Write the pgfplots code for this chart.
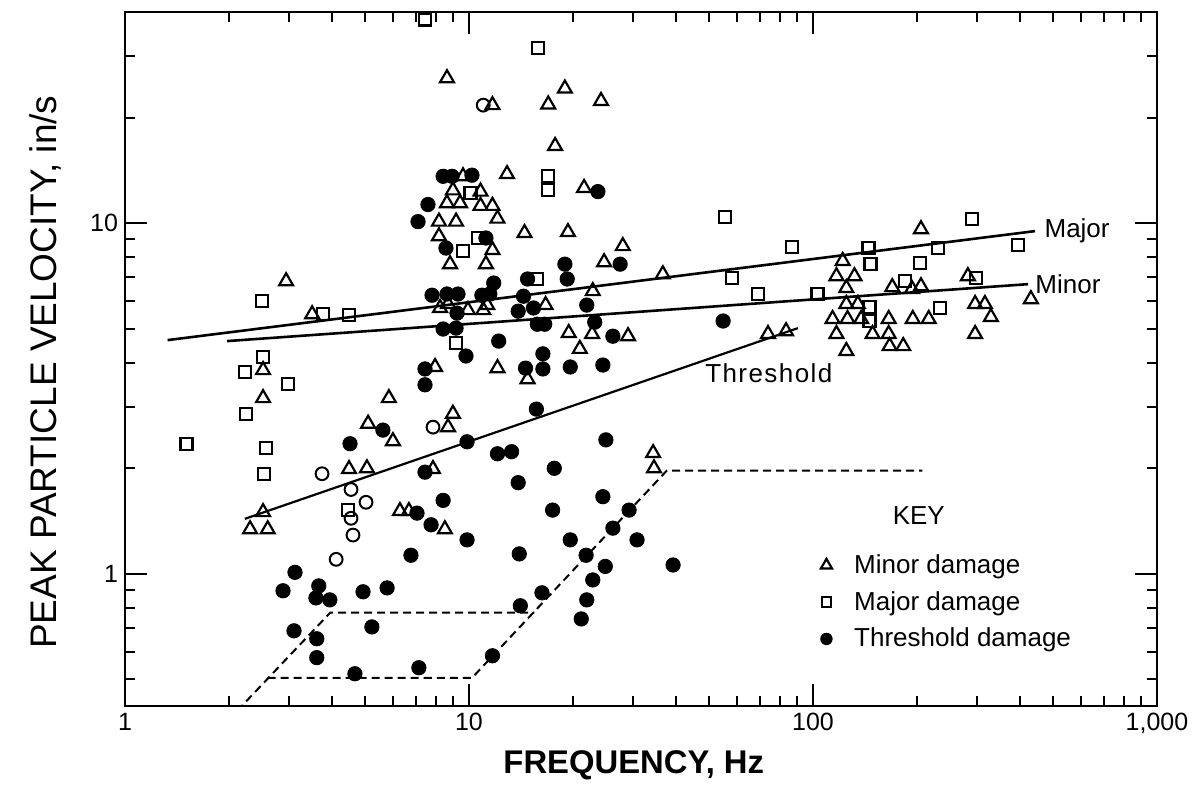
\documentclass[border=0pt]{standalone}
\usepackage{pgfplots}
\pgfplotsset{compat=1.18}
\usepackage{fontspec}
\setmainfont{Liberation Sans}
\newfontfamily\spacedfont[LetterSpace=5.5]{Liberation Sans}
\begin{document}
\begin{tikzpicture}
\path[use as bounding box] (-62.5pt,-43pt) rectangle (539.5pt,353pt);
\begin{axis}[
  xmode=log, ymode=log,
  scale only axis, width=516pt, height=347pt,
  xmin=1, xmax=1000, ymin=0.42, ymax=40,
  xtick={1,10,100,1000}, ytick={0.1,1,10,100},
  log ticks with fixed point,
  /pgf/number format/1000 sep={,},
  /pgf/number format/assume math mode=true,
  axis line style={line width=1.2pt},
  every tick/.style={black, line width=1pt},
  major tick length=11pt, minor tick length=5pt,
  tick align=inside,
  ticklabel style={font=\fontsize{12.5}{14}\selectfont},
  xlabel={FREQUENCY, Hz}, ylabel={PEAK PARTICLE VELOCITY, in/s},
  xlabel style={font=\fontsize{16.4}{18}\selectfont\bfseries, at={(axis description cs:0.493,-0.085)}, anchor=center},
  ylabel style={font=\fontsize{18.5}{20}\selectfont, at={(axis description cs:-0.0775,0.481)}, anchor=center},
  clip mode=individual,
  legend style={draw=none, fill=none, at={(axis cs:105,1.17)}, anchor=north west, inner sep=0pt,
    font=\fontsize{13}{15}\selectfont, row sep=3.5pt,
    /tikz/every odd column/.append style={column sep=9pt}},
  legend image post style={scale=0.8},
  legend cell align=left,
]
% Minor damage
\addplot[only marks, mark=triangle, mark size=4pt, mark options={line width=1.1pt, black}] table {
8.63 25.9
11.7 21.7
19.0 24.2
17.0 21.8
24.2 22.3
17.8 16.6
12.9 13.8
9.61 13.6
8.98 12.4
10.8 12.3
21.6 12.6
8.63 11.4
9.42 11.4
10.8 11.2
11.7 11.2
8.18 10.1
9.17 10.1
12.1 10.3
8.18 9.18
14.5 9.37
19.4 9.43
11.7 8.38
28.0 8.60
8.81 7.64
11.2 7.64
24.7 7.74
22.9 6.40
8.24 5.73
8.69 5.88
9.93 5.65
11.0 5.65
11.3 5.84
16.7 5.84
19.5 4.86
22.8 4.83
29.0 4.76
21.0 4.38
14.8 3.59
12.1 3.86
7.97 3.89
36.6 7.15
2.94 6.83
3.50 5.50
2.52 3.81
2.52 3.17
5.85 3.17
5.09 2.68
6.01 2.39
8.69 2.62
8.98 2.86
4.48 1.99
5.05 2.00
7.86 1.99
2.52 1.50
2.31 1.34
2.60 1.34
6.30 1.51
6.69 1.51
8.51 1.34
34.3 2.21
34.5 2.00
74.0 4.83
83.5 4.92
206 9.61
122 7.80
117 7.06
132 7.06
125 6.53
170 6.57
194 6.49
206 6.61
282 7.06
125 5.88
135 5.88
296 5.88
316 5.88
430 6.07
114 5.33
126 5.33
138 5.33
166 5.33
195 5.33
217 5.33
329 5.40
117 4.83
149 4.83
166 4.83
296 4.83
167 4.46
183 4.46
125 4.32
};
\addlegendentry{Minor damage}
% Major damage
\addplot[only marks, mark=square, mark size=3pt, mark options={line width=1.1pt, black}] table {
7.45 38.1
15.9 31.5
17.0 13.6
17.0 12.4
10.1 12.2
10.6 9.07
9.61 8.32
15.8 6.93
9.17 4.55
55.5 10.4
86.9 8.55
58.2 6.97
145 8.49
147 7.64
69.2 6.28
103 6.28
290 10.3
231 8.49
394 8.66
205 7.69
185 6.83
298 6.97
146 5.77
234 5.73
146 5.26
2.50 6.00
3.76 5.50
4.48 5.47
2.52 4.15
2.23 3.76
2.98 3.48
2.25 2.86
1.51 2.35
2.57 2.29
2.54 1.93
4.45 1.52
};
\addlegendentry{Major damage}
% Threshold damage
\addplot[only marks, mark=*, mark size=3.6pt, mark options={black}] table {
8.41 13.6
8.93 13.6
10.2 13.7
23.7 12.3
7.60 11.3
7.11 10.1
11.2 9.07
8.57 8.49
19.0 7.64
27.5 7.64
11.8 6.75
14.8 6.93
19.3 6.93
7.81 6.23
8.63 6.28
9.29 6.28
10.9 6.23
11.5 6.28
9.23 5.54
13.9 5.61
15.4 5.73
22.0 5.84
8.41 4.99
9.17 5.02
15.8 5.15
16.6 5.15
23.2 5.22
12.2 4.61
26.2 4.76
14.4 6.19
54.8 5.26
9.80 4.18
7.45 3.84
7.45 3.46
14.6 3.86
16.4 4.24
16.4 3.84
19.7 3.89
24.5 3.94
5.62 2.57
15.7 2.95
4.51 2.35
9.87 2.38
12.1 2.20
13.3 2.23
25.0 2.41
7.45 1.95
17.7 2.00
13.9 1.82
8.41 1.62
24.5 1.66
7.06 1.49
7.76 1.38
17.5 1.52
29.2 1.52
26.2 1.35
9.87 1.25
19.7 1.25
30.8 1.25
6.78 1.13
14.0 1.14
21.9 1.13
24.9 1.05
39.2 1.06
22.9 0.961
3.12 1.01
2.88 0.895
3.66 0.924
3.59 0.854
3.94 0.843
4.92 0.889
5.78 0.912
16.3 0.883
22.0 0.843
14.1 0.811
21.2 0.744
3.10 0.688
3.61 0.653
3.61 0.577
5.22 0.706
4.66 0.519
7.15 0.540
11.7 0.584
};
\addlegendentry{Threshold damage}
% open circles (not in key)
\addplot[forget plot, only marks, mark=o, mark size=3.2pt, mark options={line width=1pt, black}] table {
11.0 21.7
7.86 2.62
3.74 1.93
4.54 1.74
5.02 1.60
4.54 1.44
4.60 1.29
4.11 1.10
};
% regression lines
\addplot[forget plot, black, line width=1.3pt] coordinates {(1.33,4.64) (442,9.49)};
\addplot[forget plot, black, line width=1.3pt] coordinates {(1.98,4.61) (422,6.70)};
\addplot[forget plot, black, line width=1.1pt] coordinates {(2.23,1.435) (90.4,5.02)};
% dashed criteria
\addplot[forget plot, black, line width=1pt, dash pattern=on 4pt off 2.5pt] coordinates {(2.12,0.407) (3.95,0.775) (15.5,0.775)};
\addplot[forget plot, black, line width=1pt, dash pattern=on 4pt off 2.5pt] coordinates {(2.6,0.505) (10.2,0.505) (37.6,1.97) (208,1.97)};
% labels
\node[anchor=west, inner sep=0pt, font=\fontsize{13}{15}\selectfont] at (axis cs:470,9.49) {Major};
\node[anchor=west, inner sep=0pt, font=\fontsize{13}{15}\selectfont] at (axis cs:442,6.70) {Minor};
\node[anchor=west, inner sep=0pt, font=\fontsize{13}{15}\spacedfont] at (axis cs:48.5,3.74) {Threshold};
\node[anchor=center, inner sep=0pt, font=\fontsize{13}{15}\selectfont] at (axis cs:203,1.47) {KEY};
\end{axis}
\end{tikzpicture}
\end{document}
